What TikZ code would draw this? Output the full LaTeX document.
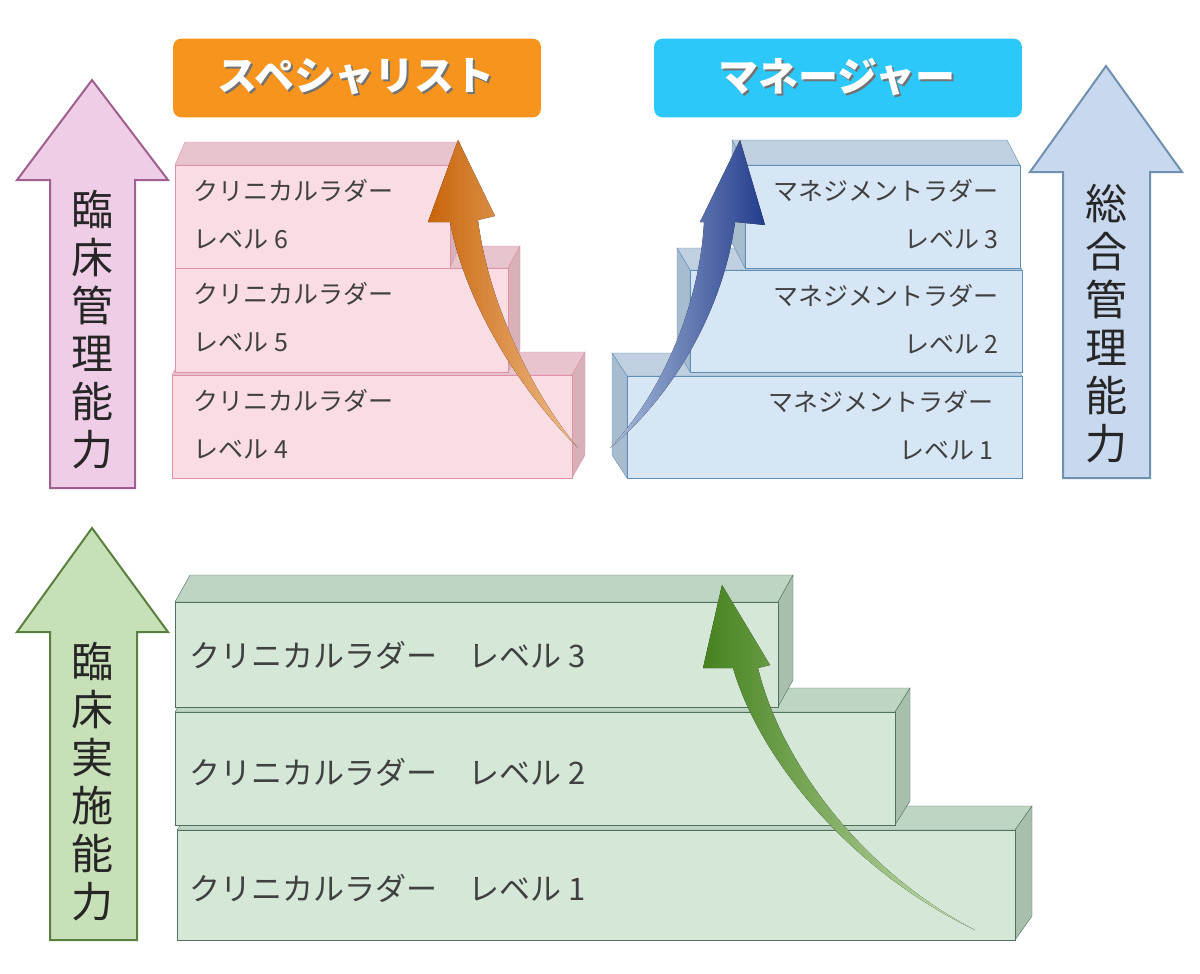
\documentclass[tikz,border=0pt]{standalone}
\usepackage{fontspec}
\setmainfont{Noto Sans CJK JP}
\begin{document}
\begin{tikzpicture}[x=1pt,y=-1pt,
  bigarrow/.style={line width=2pt},
  vtext/.style={align=center,font=\fontsize{42}{48}\selectfont,text=black!85},
  lbl/.style={rounded corners=8pt,minimum width=359pt,minimum height=70pt,font=\fontsize{40}{44}\selectfont\bfseries,text=white},
  boxtxt/.style={font=\fontsize{25}{28}\selectfont,text=black!75},
  gtxt/.style={font=\fontsize{31}{34}\selectfont,text=black!75,anchor=west}]
\useasboundingbox (0,0) rectangle (1200,974);
\definecolor{pk}{HTML}{F9DDE3}\definecolor{pkt}{HTML}{E8C4CC}\definecolor{pks}{HTML}{D8B0B8}\definecolor{pkd}{HTML}{E090A8}
\definecolor{bl}{HTML}{D6E6F5}\definecolor{blt}{HTML}{C0D0E0}\definecolor{bls}{HTML}{A8BCD0}\definecolor{bld}{HTML}{6090B8}
\definecolor{gr}{HTML}{D5E8D8}\definecolor{grt}{HTML}{BFD5C3}\definecolor{grs}{HTML}{A8BFAE}\definecolor{grd}{HTML}{507060}
% big arrows
\draw[bigarrow,draw={rgb,255:red,160;green,96;blue,143},fill={rgb,255:red,239;green,205;blue,230}] (50,488)--(50,180)--(17,180)--(92,80)--(168,180)--(135,180)--(135,488)--cycle;
\node[vtext] (t1) at (92,330) {臨\\床\\管\\理\\能\\力};
\draw[bigarrow,draw={rgb,255:red,90;green,128;blue,64},fill={rgb,255:red,200;green,224;blue,184}] (50,940)--(50,632)--(17,632)--(92,528)--(168,632)--(137,632)--(137,940)--cycle;
\node[vtext] (t2) at (92,782) {臨\\床\\実\\施\\能\\力};
\draw[bigarrow,draw={rgb,255:red,112;green,144;blue,176},fill={rgb,255:red,200;green,216;blue,238}] (1063,478)--(1063,172)--(1030,172)--(1106,66)--(1182,172)--(1150,172)--(1150,478)--cycle;
\node[vtext] (t3) at (1106,324) {総\\合\\管\\理\\能\\力};
% labels
\node[lbl,fill={rgb,255:red,247;green,148;blue,29}] (sp) at (357,78) {\tikz[baseline]{\node[inner sep=0,text=black!55,anchor=base] at (2pt,-2pt){スペシャリスト};\node[inner sep=0,anchor=base] at (0,0){スペシャリスト};}};
\node[lbl,fill={rgb,255:red,45;green,200;blue,250}] (mg) at (838,78) {\tikz[baseline]{\node[inner sep=0,text=black!55,anchor=base] at (2pt,-2pt){マネージャー};\node[inner sep=0,anchor=base] at (0,0){マネージャー};}};
% pink boxes
\newcommand\pbox[6]{%
 \draw[draw=pkd,fill=pkt] (#1,#3)--(#1+#5,#3+#6)--(#2+#5,#3+#6)--(#2,#3)--cycle;
 \draw[draw=pkd,fill=pks] (#2,#3)--(#2+#5,#3+#6)--(#2+#5,#4+#6)--(#2,#4)--cycle;
 \draw[draw=pkd,fill=pk] (#1,#3) rectangle (#2,#4);}
\pbox{172}{572}{375}{478}{13}{-23}
\pbox{175}{508}{268}{372}{12}{-22}
\pbox{175}{450}{165}{268}{10}{-23}
\foreach \n/\y in {6/165,5/268,4/375}{
 \node[boxtxt,anchor=west] (pa\n) at (190,\y+26) {クリニカルラダー};
 \node[boxtxt,anchor=west] (pb\n) at (190,\y+74) {レベル \n};}
% blue boxes
\newcommand\bbox[6]{%
 \draw[draw=bld,fill=blt] (#1,#3)--(#1+#5,#3+#6)--(#2+#5,#3+#6)--(#2,#3)--cycle;
 \draw[draw=bld,fill=bls] (#1,#3)--(#1+#5,#3+#6)--(#1+#5,#4+#6)--(#1,#4)--cycle;
 \draw[draw=bld,fill=bl] (#1,#3) rectangle (#2,#4);}
\bbox{627}{1022}{376}{478}{-15}{-23}
\bbox{690}{1022}{270}{372}{-13}{-22}
\bbox{745}{1020}{165}{268}{-13}{-25}
\foreach \n/\y/\x in {3/165/1002,2/270/1002,1/376/997}{
 \node[boxtxt,anchor=east] (ma\n) at (\x,\y+26) {マネジメントラダー};
 \node[boxtxt,anchor=east] (mb\n) at (\x,\y+74) {レベル \n};}
% green boxes
\newcommand\gbox[6]{%
 \draw[draw=grd,fill=grt] (#1,#3)--(#1+#5,#3+#6)--(#2+#5,#3+#6)--(#2,#3)--cycle;
 \draw[draw=grd,fill=grs] (#2,#3)--(#2+#5,#3+#6)--(#2+#5,#4+#6)--(#2,#4)--cycle;
 \draw[draw=grd,fill=gr] (#1,#3) rectangle (#2,#4);}
\gbox{177}{1015}{830}{940}{17}{-24}
\gbox{175}{895}{712}{825}{15}{-24}
\gbox{175}{778}{602}{707}{15}{-27}
\node[gtxt] (g3) at (186,655) {クリニカルラダー　レベル 3};
\node[gtxt] (g2) at (186,772) {クリニカルラダー　レベル 2};
\node[gtxt] (g1) at (186,888) {クリニカルラダー　レベル 1};
% curved arrows
\fill[left color={rgb,255:red,200;green,100;blue,10},right color={rgb,255:red,240;green,190;blue,140}] (578,448) .. controls (515,385) and (465,300) .. (450,222) -- (428,222) -- (458,140) -- (495,216) -- (478,220) .. controls (488,300) and (530,390) .. (578,448) -- cycle;
\fill[left color={rgb,255:red,170;green,190;blue,220},right color={rgb,255:red,35;green,60;blue,140}] (610,448) .. controls (665,390) and (700,300) .. (704,222) -- (700,222) -- (740,140) -- (765,225) -- (735,222) .. controls (725,300) and (680,390) .. (610,448) -- cycle;
\fill[left color={rgb,255:red,70;green,130;blue,30},right color={rgb,255:red,200;green,225;blue,180}] (975,930) .. controls (850,870) and (760,760) .. (733,668) -- (703,668) -- (722,585) -- (770,665) -- (758,668) .. controls (780,760) and (860,870) .. (975,930) -- cycle;
\end{tikzpicture}
\end{document}
